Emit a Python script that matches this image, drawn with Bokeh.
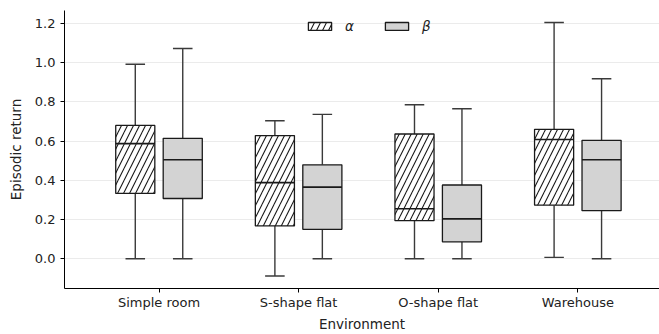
from bokeh.plotting import figure
from bokeh.models import ColumnDataSource, FixedTicker, Range1d, Legend, LegendItem, NumeralTickFormatter
from bokeh.embed import file_html
from bokeh.resources import INLINE

environments = ["Simple room", "S-shape flat", "O-shape flat", "Warehouse"]

# alpha series: whisker low, Q1, median, Q3, whisker high
alpha_low = [0.0, -0.088, 0.0, 0.007]
alpha_q1 = [0.333, 0.167, 0.194, 0.273]
alpha_med = [0.587, 0.388, 0.255, 0.608]
alpha_q3 = [0.680, 0.628, 0.636, 0.660]
alpha_high = [0.992, 0.704, 0.785, 1.205]

# beta series
beta_low = [0.0, 0.0, 0.0, 0.0]
beta_q1 = [0.307, 0.150, 0.086, 0.245]
beta_med = [0.505, 0.365, 0.203, 0.505]
beta_q3 = [0.614, 0.479, 0.376, 0.604]
beta_high = [1.072, 0.736, 0.765, 0.918]

y_ticks = [0.0, 0.2, 0.4, 0.6, 0.8, 1.0, 1.2]

OFFSET = 0.17
BOX_W = 0.28
CAP_W = BOX_W / 2

p = figure(width=659, height=334, output_backend="svg", toolbar_location=None,
           x_range=Range1d(-0.677, 3.585), y_range=Range1d(-0.152, 1.266),
           min_border_left=64, min_border_right=0, min_border_top=10, min_border_bottom=43)
p.outline_line_color = None
p.background_fill_color = "white"

FONT = "DejaVu Sans"
TXT = "#222222"


def series(idx_off, low, q1, med, q3, high):
    xs = [i + idx_off for i in range(len(environments))]
    return ColumnDataSource(dict(
        x=xs,
        low=low, q1=q1, med=med, q3=q3, high=high,
        bx0=[x - BOX_W / 2 for x in xs], bx1=[x + BOX_W / 2 for x in xs],
        cx0=[x - CAP_W / 2 for x in xs], cx1=[x + CAP_W / 2 for x in xs],
    ))


src_a = series(-OFFSET, alpha_low, alpha_q1, alpha_med, alpha_q3, alpha_high)
src_b = series(OFFSET, beta_low, beta_q1, beta_med, beta_q3, beta_high)

WHISK = "#3a3a3a"
for src in (src_a, src_b):
    p.segment(x0="x", x1="x", y0="q3", y1="high", source=src, line_color=WHISK, line_width=1.4)
    p.segment(x0="x", x1="x", y0="low", y1="q1", source=src, line_color=WHISK, line_width=1.4)
    p.segment(x0="cx0", x1="cx1", y0="high", y1="high", source=src, line_color=WHISK, line_width=1.4)
    p.segment(x0="cx0", x1="cx1", y0="low", y1="low", source=src, line_color=WHISK, line_width=1.4)

ra = p.vbar(x="x", width=BOX_W, bottom="q1", top="q3", source=src_a,
            fill_color="white", line_color="#1a1a1a", line_width=1.3,
            hatch_pattern="/", hatch_color="#1a1a1a", hatch_scale=12, hatch_weight=1.1)
rb = p.vbar(x="x", width=BOX_W, bottom="q1", top="q3", source=src_b,
            fill_color="#d3d3d3", line_color="#1a1a1a", line_width=1.3)

for src in (src_a, src_b):
    p.segment(x0="bx0", x1="bx1", y0="med", y1="med", source=src, line_color="#1a1a1a", line_width=1.6)

# axes
p.xgrid.visible = False
p.ygrid.grid_line_color = "#ebebeb"
p.ygrid.grid_line_width = 1
p.ygrid.ticker = FixedTicker(ticks=y_ticks)

p.yaxis.ticker = FixedTicker(ticks=y_ticks)
p.yaxis.formatter = NumeralTickFormatter(format="0.0")
p.xaxis.ticker = FixedTicker(ticks=list(range(len(environments))))
p.xaxis.major_label_overrides = {i: n for i, n in enumerate(environments)}

for ax in (p.xaxis[0], p.yaxis[0]):
    ax.axis_line_color = "black"
    ax.axis_line_width = 1
    ax.major_tick_line_color = "black"
    ax.major_tick_in = 0
    ax.major_tick_out = 4
    ax.minor_tick_line_color = None
    ax.major_label_text_font = FONT
    ax.major_label_text_font_size = "13px"
    ax.major_label_text_color = TXT
    ax.axis_label_text_font = FONT
    ax.axis_label_text_font_size = "13.5px"
    ax.axis_label_text_font_style = "normal"
    ax.axis_label_text_color = TXT

p.xaxis.major_label_standoff = 2
p.yaxis.major_label_standoff = 5
p.xaxis.axis_label = "Environment"
p.yaxis.axis_label = "Episodic return"
p.xaxis.axis_label_standoff = 3
p.yaxis.axis_label_standoff = 8

legend = Legend(items=[LegendItem(label="α", renderers=[ra]), LegendItem(label="β", renderers=[rb])],
                orientation="horizontal", location=(241, 254),
                glyph_width=29, glyph_height=10, label_standoff=11, spacing=17,
                padding=0, margin=0, border_line_color=None, background_fill_alpha=0,
                label_text_font=FONT, label_text_font_size="13.5px", label_text_font_style="italic",
                label_text_color=TXT, label_height=10)
p.add_layout(legend, "center")

open("out.html", "w").write(file_html(p, INLINE))
